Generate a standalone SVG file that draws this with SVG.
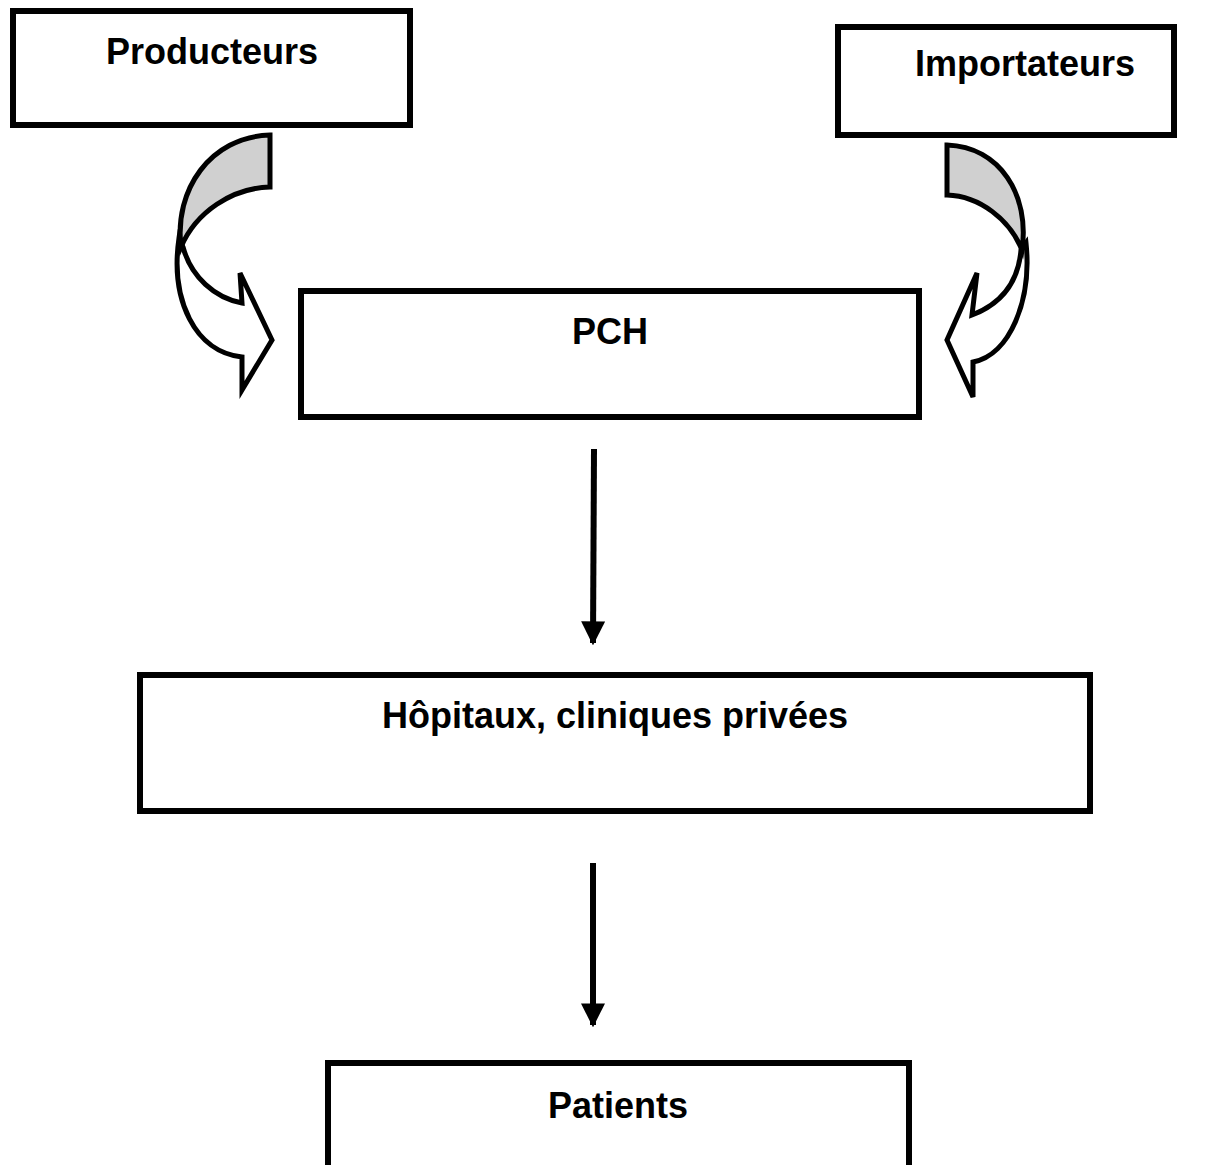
<svg xmlns="http://www.w3.org/2000/svg" width="1218" height="1165" viewBox="0 0 1218 1165">
  <style>
    .box { fill: #ffffff; stroke: #000000; stroke-width: 6; }
    .label { font-family: "Liberation Sans", Arial, sans-serif; font-weight: bold; font-size: 36px; fill: #000000; text-anchor: middle; }
    .band-back { fill: #d0d0d0; stroke: #000000; stroke-width: 5; stroke-linejoin: miter; }
    .band-front { fill: #ffffff; stroke: #000000; stroke-width: 5; stroke-linejoin: miter; }
    .link { stroke: #000000; stroke-width: 6; fill: none; }
  </style>
  <defs>
    <marker id="head" viewBox="0 0 10 10" refX="9" refY="5" markerWidth="4" markerHeight="4" orient="auto" markerUnits="strokeWidth">
      <path d="M0,0 L10,5 L0,10 Z" fill="#000000"/>
    </marker>
  </defs>
  <rect width="1218" height="1165" fill="#ffffff"/>

  <g id="producteurs">
    <rect class="box" x="13" y="11" width="397" height="114"/>
    <text class="label" x="212" y="64">Producteurs</text>
  </g>

  <g id="importateurs">
    <rect class="box" x="838" y="27" width="336" height="108"/>
    <text class="label" x="1025" y="76">Importateurs</text>
  </g>

  <g id="pch">
    <rect class="box" x="301" y="291" width="618" height="126"/>
    <text class="label" x="610" y="344">PCH</text>
  </g>

  <g id="hopitaux">
    <rect class="box" x="140" y="675" width="950" height="136"/>
    <text class="label" x="615" y="728">Hôpitaux, cliniques privées</text>
  </g>

  <g id="patients">
    <rect class="box" x="328" y="1063" width="581" height="200"/>
    <text class="label" x="618" y="1118">Patients</text>
  </g>

  <g id="connectors">
    <!-- curved arrow from Producteurs into PCH -->
    <g id="curve-left">
      <path class="band-front" d="M179,238 C170,300 195,352 242,357 L242,390 L272,340 L240,273 L242,303 C215,298 191,277 183,247 Z"/>
      <path class="band-back" d="M270,135 L270,187 C232,188 196,212 181,247 C174,190 210,137 270,135 Z"/>
    </g>
    <!-- curved arrow from Importateurs into PCH -->
    <g id="curve-right">
      <path class="band-front" d="M1026,243 C1032,300 1010,355 973,362 L973,397 L947,340 L977,273 L972,315 C998,305 1018,285 1021,250 Z"/>
      <path class="band-back" d="M947,145 L947,195 C980,196 1010,220 1022,250 C1030,195 1000,147 947,145 Z"/>
    </g>
    <!-- straight links down the chain -->
    <line class="link" x1="594" y1="449" x2="593" y2="643" marker-end="url(#head)"/>
    <line class="link" x1="593" y1="863" x2="593" y2="1025" marker-end="url(#head)"/>
  </g>
</svg>
